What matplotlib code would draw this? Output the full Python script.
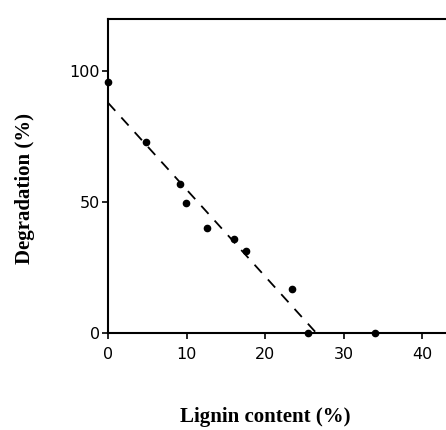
import matplotlib.pyplot as plt

lignin = [0, 4.8, 9.2, 9.9, 12.6, 16.0, 17.6, 23.4, 25.4, 34.0]
degradation = [96, 73, 57, 49.5, 40, 36, 31.5, 17, 0, 0]

fit_x = [0, 26.5]
fit_y = [88, 0]
base_x = [26.5, 43.5]
base_y = [0, 0]

xticks = [0, 10, 20, 30, 40]
yticks = [0, 50, 100]

fig = plt.figure(figsize=(4.46, 4.30), dpi=100)
ax = fig.add_axes([108 / 446, 97 / 430, 1 - 108 / 446, (333 - 19) / 430])

ax.plot(lignin, degradation, "o", color="black", markersize=4.5, clip_on=False, zorder=5)
ax.plot(fit_x, fit_y, color="black", lw=1.3, dashes=(6, 5))
ax.plot(base_x, base_y, color="black", lw=1.3, dashes=(10, 2))

ax.set_xlim(0, 43)
ax.set_ylim(0, 120)
ax.set_xticks(xticks)
ax.set_yticks(yticks)
ax.set_xticklabels([str(t) for t in xticks])
ax.set_yticklabels([str(t) for t in yticks])

for s in ["left", "bottom", "top"]:
    ax.spines[s].set_linewidth(1.5)
ax.spines["right"].set_visible(False)
ax.tick_params(direction="out", length=4, width=1.2, labelsize=11.5)
ax.tick_params(axis="x", pad=6)
ax.tick_params(axis="y", pad=2)

ax.set_xlabel("Lignin content (%)", fontfamily="Liberation Serif",
              fontweight="bold", fontsize=15)
ax.xaxis.set_label_coords(0.464, -0.235)
ax.set_ylabel("Degradation (%)", fontfamily="Liberation Serif",
              fontweight="bold", fontsize=15)
ax.yaxis.set_label_coords(-0.215, 0.46)

fig.savefig("out.png", dpi=100)
